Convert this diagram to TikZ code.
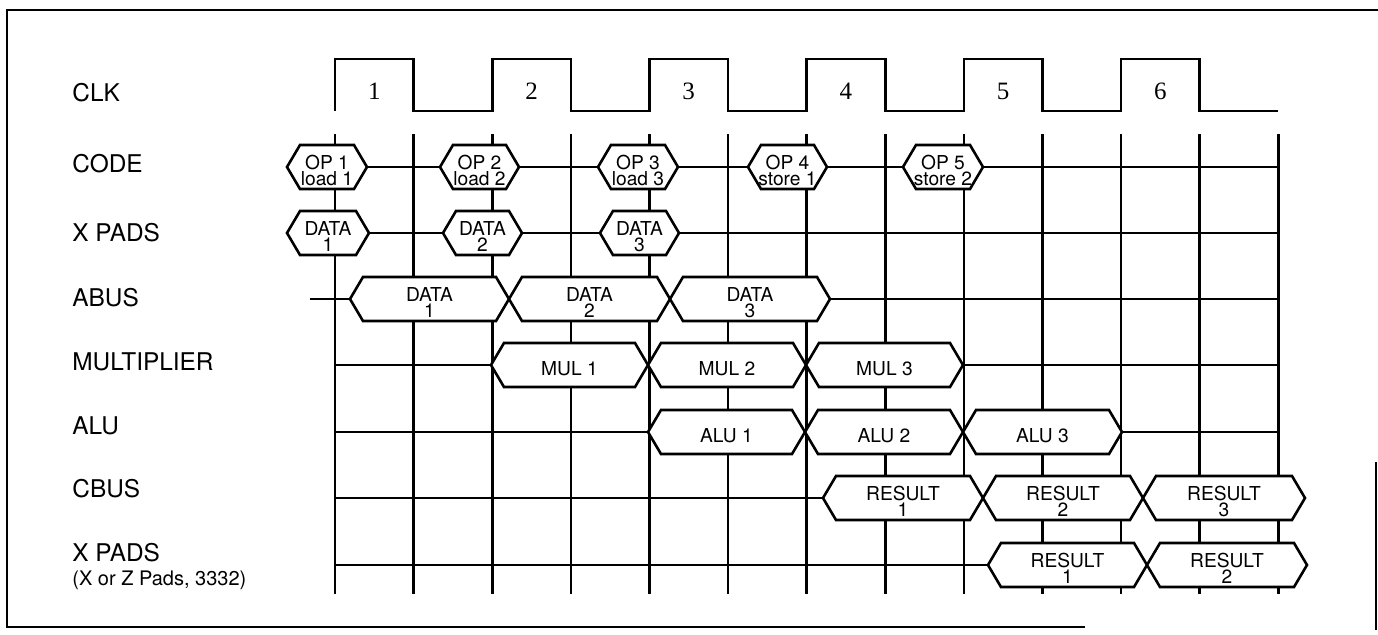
\documentclass[tikz,border=0pt]{standalone}
\usepackage{fontspec}
\setmainfont{TeX Gyre Heros}
\newfontfamily\clkfont{Liberation Serif}
\usetikzlibrary{calc}
% clock and grid
\def\Step{78.6}
\def\Xzero{335}
\def\ClkHigh{59}
\def\ClkLow{111}
\def\GridTop{134}
\def\GridBot{594}
% hexagon size
\def\HexH{22}
\def\Slant{13}
% rows
\def\CodeY{167}
\def\XPadsY{233}
\def\AbusY{299}
\def\MulY{365}
\def\AluY{432}
\def\CbusY{498}
\def\ZPadsY{565}

\tikzset{
  sig/.style={line width=1.3pt},
  hexline/.style={line width=1.3pt, fill=white},
  hextext/.style={font=\fontsize{9.6}{8.2}\selectfont, align=center, inner sep=0pt},
  lbl/.style={font=\fontsize{12.2}{14}\selectfont, anchor=west, inner sep=0pt},
  sublbl/.style={font=\fontsize{10}{11}\selectfont, anchor=west, inner sep=0pt},
  clknum/.style={font=\clkfont\fontsize{12.5}{14}\selectfont, inner sep=0pt}
}
% name, left tip, right tip, row, text
\newcommand{\hexsig}[5]{%
  \filldraw[hexline] ({#2},{#4}) -- ({#2+\Slant},{#4-\HexH}) -- ({#3-\Slant},{#4-\HexH})
    -- ({#3},{#4}) -- ({#3-\Slant},{#4+\HexH}) -- ({#2+\Slant},{#4+\HexH}) -- cycle;
  \node[hextext] (#1) at ({(#2+#3)/2},{#4+3.5}) {#5};
}

\begin{document}
\begin{tikzpicture}[x=0.5pt,y=-0.5pt]
  \useasboundingbox (0,0) rectangle (1378,634);
  % frame
  \draw[sig] (1085,627) -- (7,627) -- (7,10) -- (1378,10);
  \draw[sig] (1376,462) -- (1376,630);
  % labels
  \node[lbl] (lclk) at (72,93) {CLK};
  \node[lbl] (lcode) at (72,164) {CODE};
  \node[lbl] (lxpads) at (72,233) {X PADS};
  \node[lbl] (labus) at (72,298) {ABUS};
  \node[lbl] (lmul) at (72,362) {MULTIPLIER};
  \node[lbl] (lalu) at (72,426) {ALU};
  \node[lbl] (lcbus) at (72,489) {CBUS};
  \node[lbl] (lzpads) at (72,553) {X PADS};
  \node[sublbl] (lzsub) at (72,580) {(X or Z Pads, 3332)};
  % clock
  \draw[sig] (\Xzero,\ClkLow)
    \foreach \i in {0,2,...,10} {
      -- ({\Xzero+\i*\Step},\ClkHigh) -- ({\Xzero+(\i+1)*\Step},\ClkHigh)
      -- ({\Xzero+(\i+1)*\Step},\ClkLow) -- ({\Xzero+(\i+2)*\Step},\ClkLow)
    };
  \foreach \n in {1,...,6}
    \node[clknum] (c\n) at ({\Xzero+(2*\n-1.5)*\Step},91) {\n};
  % grid
  \foreach \i in {0,...,12}
    \draw[sig] ({\Xzero+\i*\Step},\GridTop) -- ({\Xzero+\i*\Step},\GridBot);
  % row lines
  \foreach \a/\b in {367/440,519/598,678/748,827/903,983/1278}
    \draw[sig] (\a,\CodeY) -- (\b,\CodeY);
  \foreach \a/\b in {369/443,522/600,679/1278}
    \draw[sig] (\a,\XPadsY) -- (\b,\XPadsY);
  \foreach \a/\b in {310/350,830/1278}
    \draw[sig] (\a,\AbusY) -- (\b,\AbusY);
  \draw[sig] (\Xzero,\MulY) -- (491,\MulY);
  \draw[sig] (963,\MulY) -- (1278,\MulY);
  \draw[sig] (\Xzero,\AluY) -- (648,\AluY);
  \draw[sig] (1122,\AluY) -- (1278,\AluY);
  \draw[sig] (\Xzero,\CbusY) -- (823,\CbusY);
  \draw[sig] (\Xzero,\ZPadsY) -- (988,\ZPadsY);
  % code
  \hexsig{op1}{287}{367}{\CodeY}{OP 1\\load 1}
  \hexsig{op2}{440}{519}{\CodeY}{OP 2\\load 2}
  \hexsig{op3}{598}{678}{\CodeY}{OP 3\\load 3}
  \hexsig{op4}{748}{827}{\CodeY}{OP 4\\store 1}
  \hexsig{op5}{903}{983}{\CodeY}{OP 5\\store 2}
  % x pads
  \hexsig{xd1}{287}{369}{\XPadsY}{DATA\\1}
  \hexsig{xd2}{443}{522}{\XPadsY}{DATA\\2}
  \hexsig{xd3}{600}{679}{\XPadsY}{DATA\\3}
  % abus
  \hexsig{ad1}{350}{509}{\AbusY}{DATA\\1}
  \hexsig{ad2}{509}{670}{\AbusY}{DATA\\2}
  \hexsig{ad3}{670}{830}{\AbusY}{DATA\\3}
  % multiplier
  \hexsig{mul1}{491}{648}{\MulY}{MUL 1}
  \hexsig{mul2}{648}{806}{\MulY}{MUL 2}
  \hexsig{mul3}{806}{963}{\MulY}{MUL 3}
  % alu
  \hexsig{alu1}{648}{805}{\AluY}{ALU 1}
  \hexsig{alu2}{805}{963}{\AluY}{ALU 2}
  \hexsig{alu3}{963}{1122}{\AluY}{ALU 3}
  % cbus
  \hexsig{cb1}{823}{983}{\CbusY}{RESULT\\1}
  \hexsig{cb2}{983}{1143}{\CbusY}{RESULT\\2}
  \hexsig{cb3}{1143}{1305}{\CbusY}{RESULT\\3}
  % x pads, results
  \hexsig{xr1}{988}{1147}{\ZPadsY}{RESULT\\1}
  \hexsig{xr2}{1147}{1307}{\ZPadsY}{RESULT\\2}
\end{tikzpicture}
\end{document}
